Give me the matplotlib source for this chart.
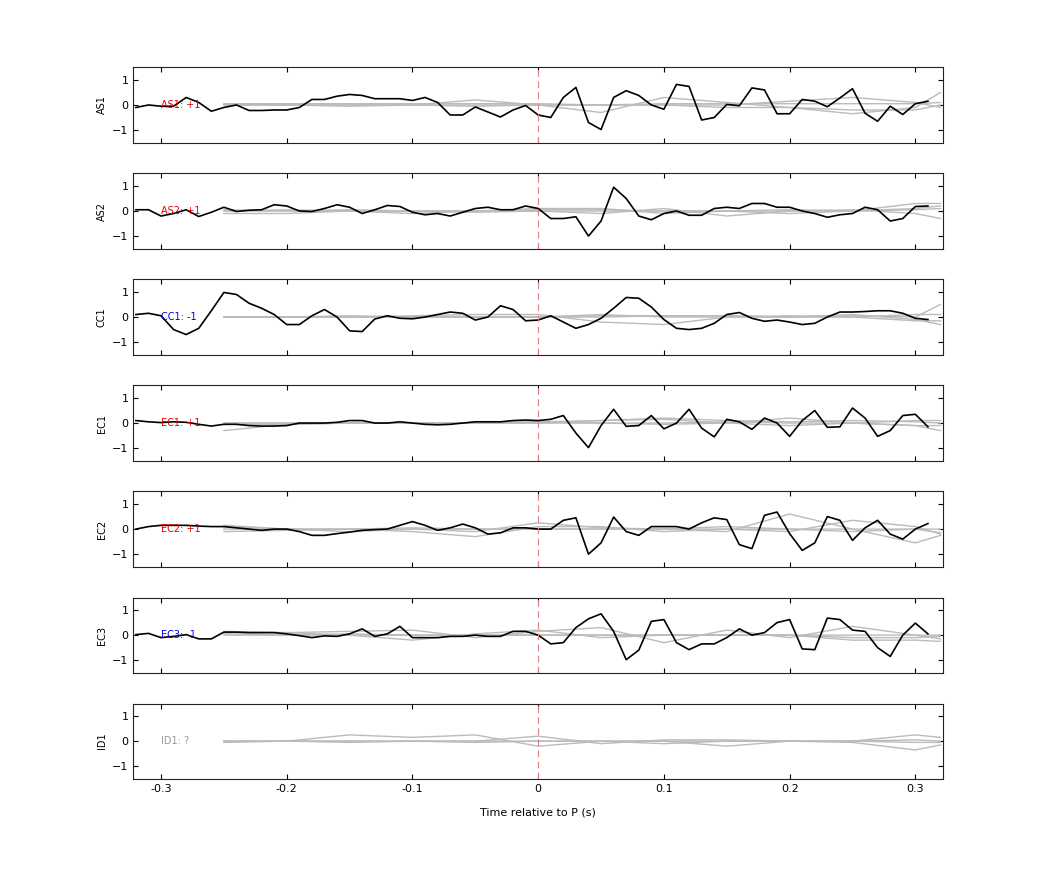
import numpy as np
import matplotlib.pyplot as plt

# channel names and annotation text
names = ["AS1", "AS2", "CC1", "EC1", "EC2", "EC3", "ID1"]
tags = ["AS1: +1", "AS2: +1", "CC1: -1", "EC1: +1", "EC2: +1", "EC3: -1", "ID1: ?"]
tag_colors = ["#e00000", "#e00000", "#0000e0", "#e00000", "#e00000", "#0000e0", "#999999"]

# black trace sample times
t = np.round(np.arange(-0.32, 0.315, 0.01), 2)

as1 = [-0.1, 0.0, -0.05, -0.05, 0.3, 0.1, -0.25, -0.1, 0.0, -0.22, -0.22, -0.2, -0.2, -0.1, 0.22, 0.22,
       0.35, 0.42, 0.38, 0.25, 0.25, 0.25, 0.18, 0.3, 0.1, -0.4, -0.4, -0.08, -0.28, -0.48, -0.2, -0.02,
       -0.4, -0.5, 0.3, 0.7, -0.7, -0.98, 0.3, 0.57, 0.38, 0.0, -0.17, 0.82, 0.74, -0.6, -0.5, 0.02,
       -0.03, 0.68, 0.6, -0.35, -0.35, 0.22, 0.15, -0.07, 0.28, 0.65, -0.33, -0.65, -0.05, -0.38, 0.05, 0.15]
as2 = [0.05, 0.05, -0.2, -0.1, 0.05, -0.22, -0.05, 0.15, -0.02, 0.03, 0.05, 0.25, 0.2, 0.0, -0.02, 0.1,
       0.25, 0.15, -0.1, 0.05, 0.22, 0.18, -0.05, -0.15, -0.1, -0.2, -0.05, 0.1, 0.15, 0.05, 0.05, 0.2,
       0.1, -0.3, -0.3, -0.23, -1.0, -0.4, 0.95, 0.5, -0.2, -0.35, -0.1, 0.0, -0.17, -0.17, 0.1, 0.15,
       0.1, 0.3, 0.3, 0.15, 0.15, 0.0, -0.1, -0.25, -0.15, -0.1, 0.15, 0.05, -0.4, -0.3, 0.18, 0.2]
cc1 = [0.1, 0.15, 0.05, -0.5, -0.7, -0.45, 0.25, 0.98, 0.9, 0.55, 0.35, 0.1, -0.3, -0.3, 0.05, 0.3,
       0.0, -0.55, -0.58, -0.08, 0.05, -0.05, -0.07, 0.0, 0.1, 0.2, 0.15, -0.12, 0.0, 0.45, 0.3, -0.15,
       -0.12, 0.05, -0.2, -0.45, -0.3, -0.05, 0.35, 0.78, 0.75, 0.4, -0.1, -0.45, -0.5, -0.45, -0.25, 0.1,
       0.18, -0.05, -0.17, -0.12, -0.2, -0.3, -0.25, 0.0, 0.2, 0.2, 0.22, 0.25, 0.25, 0.15, -0.05, -0.1]
ec1 = [0.1, 0.05, 0.02, 0.05, 0.03, -0.05, -0.12, -0.05, -0.05, -0.1, -0.12, -0.12, -0.1, 0.0, 0.0, 0.0,
       0.03, 0.1, 0.1, 0.0, 0.0, 0.05, 0.0, -0.05, -0.07, -0.05, 0.0, 0.05, 0.05, 0.05, 0.1, 0.12,
       0.1, 0.15, 0.3, -0.4, -0.98, -0.1, 0.55, -0.13, -0.1, 0.3, -0.23, 0.0, 0.55, -0.2, -0.55, 0.15,
       0.05, -0.25, 0.2, 0.0, -0.53, 0.1, 0.5, -0.17, -0.15, 0.6, 0.2, -0.53, -0.3, 0.3, 0.35, -0.15]
ec2 = [0.0, 0.1, 0.15, 0.15, 0.15, 0.12, 0.1, 0.1, 0.05, 0.0, -0.05, 0.0, 0.0, -0.1, -0.25, -0.25,
       -0.18, -0.12, -0.05, -0.02, 0.0, 0.15, 0.3, 0.15, -0.05, 0.05, 0.2, 0.05, -0.2, -0.15, 0.05, 0.05,
       0.0, 0.0, 0.35, 0.45, -1.0, -0.55, 0.48, -0.1, -0.25, 0.1, 0.1, 0.1, 0.0, 0.25, 0.45, 0.38,
       -0.62, -0.78, 0.55, 0.68, -0.18, -0.85, -0.55, 0.5, 0.35, -0.45, 0.05, 0.35, -0.2, -0.4, 0.0, 0.22]
ec3 = [0.02, 0.07, -0.1, -0.05, 0.02, -0.15, -0.15, 0.12, 0.12, 0.1, 0.1, 0.1, 0.05, -0.02, -0.1, -0.03,
       -0.05, 0.05, 0.25, -0.05, 0.05, 0.35, -0.1, -0.1, -0.1, -0.05, -0.05, 0.0, -0.05, -0.05, 0.15, 0.15,
       0.0, -0.35, -0.3, 0.3, 0.65, 0.85, 0.15, -0.98, -0.6, 0.55, 0.62, -0.3, -0.58, -0.35, -0.35, -0.1,
       0.25, 0.0, 0.1, 0.5, 0.62, -0.55, -0.58, 0.68, 0.62, 0.2, 0.15, -0.5, -0.85, 0.0, 0.48, 0.05]
black = [as1, as2, cc1, ec1, ec2, ec3, None]

# grey template traces, coarse samples
tg = [-0.25, -0.2, -0.15, -0.1, -0.05, 0.0, 0.05, 0.1, 0.15, 0.2, 0.25, 0.3, 0.32]
grey = [
    [[0.05, 0.05, 0.05, 0.05, 0.05, 0.05, 0.0, 0.05, 0.05, 0.05, 0.05, 0.05, 0.1],
     [0.0, 0.0, 0.0, 0.0, 0.2, 0.0, -0.3, 0.3, 0.1, -0.1, -0.35, -0.1, 0.5],
     [0.0, 0.0, -0.05, 0.0, 0.0, 0.0, 0.0, 0.0, 0.0, 0.15, 0.3, 0.1, -0.1],
     [0.0, 0.0, 0.0, 0.0, -0.05, 0.0, 0.0, 0.0, -0.1, -0.1, -0.2, -0.2, 0.0]],
    [[0.0, 0.05, 0.0, 0.0, 0.0, 0.05, 0.05, 0.0, 0.0, 0.05, 0.0, 0.05, 0.1],
     [-0.1, -0.1, 0.0, -0.1, 0.0, 0.1, 0.1, -0.1, 0.0, -0.1, 0.0, 0.3, 0.3],
     [0.05, 0.0, 0.05, 0.0, -0.05, 0.0, -0.1, 0.1, -0.2, 0.0, 0.05, -0.1, -0.3],
     [0.0, 0.0, 0.0, 0.0, 0.0, 0.0, 0.0, 0.0, 0.0, 0.0, 0.0, 0.1, 0.2]],
    [[0.0, 0.0, 0.0, 0.0, 0.0, 0.0, 0.05, 0.05, 0.05, 0.0, 0.05, 0.0, 0.5],
     [0.0, 0.0, 0.0, 0.05, 0.1, 0.1, -0.2, -0.3, 0.0, 0.05, 0.0, 0.1, 0.1],
     [0.0, 0.0, 0.0, 0.0, 0.0, 0.0, 0.1, 0.0, 0.0, 0.0, 0.1, -0.1, -0.3],
     [0.0, 0.0, 0.05, 0.0, 0.0, 0.0, 0.0, 0.05, 0.05, 0.0, 0.0, -0.15, -0.15]],
    [[-0.05, -0.05, 0.0, 0.0, 0.0, 0.0, 0.1, 0.2, 0.1, 0.05, 0.1, 0.05, 0.0],
     [-0.3, -0.05, 0.0, 0.0, 0.0, 0.05, 0.1, 0.15, 0.0, 0.2, 0.0, -0.1, -0.3],
     [0.0, 0.0, 0.0, 0.0, 0.0, 0.0, 0.0, -0.05, 0.0, -0.1, 0.0, -0.1, -0.1],
     [0.0, 0.0, 0.0, 0.0, 0.0, 0.05, 0.0, 0.0, 0.05, 0.0, 0.0, 0.1, 0.1]],
    [[0.1, 0.0, -0.1, 0.0, -0.1, 0.25, 0.05, 0.0, -0.1, 0.6, 0.0, -0.55, -0.25],
     [-0.1, -0.05, 0.0, -0.1, -0.3, 0.1, 0.1, -0.1, 0.0, -0.1, 0.35, 0.1, -0.2],
     [0.15, 0.0, 0.0, 0.05, 0.0, 0.0, 0.0, 0.0, 0.0, 0.0, 0.0, 0.0, 0.0],
     [0.0, 0.0, 0.0, 0.0, 0.0, 0.0, 0.0, 0.0, 0.1, 0.0, -0.1, 0.0, -0.15]],
    [[0.15, 0.1, 0.15, 0.2, -0.1, 0.15, 0.3, -0.3, 0.2, -0.1, 0.35, 0.0, -0.15],
     [0.1, 0.1, 0.0, -0.2, 0.05, 0.2, -0.1, 0.0, 0.0, 0.0, -0.2, -0.2, -0.25],
     [0.0, 0.0, 0.05, 0.0, 0.0, 0.0, 0.0, 0.0, 0.0, 0.0, 0.0, 0.0, 0.0],
     [0.05, 0.0, 0.0, 0.0, 0.0, 0.0, 0.0, 0.0, 0.0, 0.0, -0.1, -0.1, -0.05]],
    [[0.0, 0.0, 0.25, 0.15, 0.25, -0.2, 0.0, -0.1, 0.0, 0.0, 0.0, 0.25, 0.15],
     [-0.05, 0.0, 0.0, 0.0, 0.0, 0.2, -0.1, 0.05, 0.05, 0.0, -0.05, -0.35, -0.15],
     [0.0, 0.0, -0.05, 0.0, -0.05, 0.0, 0.0, 0.0, -0.2, 0.0, 0.0, -0.05, -0.05],
     [0.0, 0.0, 0.0, 0.0, 0.0, 0.0, 0.0, 0.0, 0.0, 0.0, 0.0, 0.05, 0.0]],
]

xticks = [-0.3, -0.2, -0.1, 0, 0.1, 0.2, 0.3]
xticklabels = ["-0.3", "-0.2", "-0.1", "0", "0.1", "0.2", "0.3"]

fig, axes = plt.subplots(7, 1, figsize=(10.42, 8.75), dpi=100, sharex=True)
fig.subplots_adjust(left=0.128, right=0.905, top=0.923, bottom=0.110, hspace=0.41)

for i, ax in enumerate(axes):
    for g in grey[i]:
        ax.plot(tg, g, color="#bbbbbb", lw=1.0)
    if black[i] is not None:
        ax.plot(t, black[i], color="black", lw=1.2)
    ax.axvline(0, color="#e08080", lw=0.8, ls=(0, (6, 4)))
    ax.text(-0.3, 0, tags[i], color=tag_colors[i], fontsize=7, va="center")
    ax.set_ylabel(names[i], fontsize=7)
    ax.set_xlim(-0.322, 0.322)
    ax.set_ylim(-1.5, 1.5)
    ax.set_yticks([-1, 0, 1])
    ax.tick_params(direction="in", top=True, right=True, labelsize=8)
    for s in ax.spines.values():
        s.set_linewidth(0.8)
        s.set_color("#222222")

axes[-1].set_xticks(xticks)
axes[-1].set_xticklabels(xticklabels)
axes[-1].set_xlabel("Time relative to P (s)", fontsize=8, labelpad=10)

plt.savefig("out.png")
